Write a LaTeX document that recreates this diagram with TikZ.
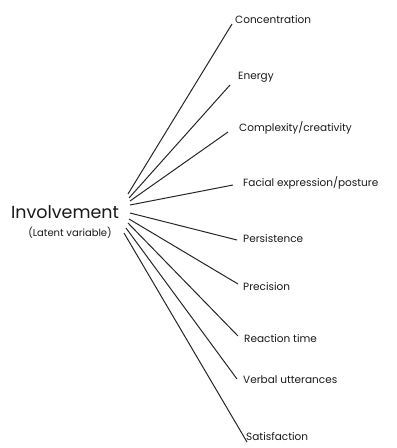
\documentclass[tikz,border=0pt]{standalone}
\usepackage{fontspec}
\setmainfont{Poppins}
\begin{document}
\begin{tikzpicture}[x=1pt,y=-1pt,
  lab/.style={anchor=west,inner sep=0pt,font=\fontsize{10.5}{12}\selectfont,text=black!90},
  spoke/.style={draw=black!85,line width=1pt}]
\useasboundingbox (0,0) rectangle (397,448);
\node[inner sep=0pt,font=\fontsize{17.5}{19}\selectfont,text=black!90] (inv) at (65,212) {Involvement};
\node[inner sep=0pt,font=\fontsize{10}{11}\selectfont,text=black!90] (lat) at (70,233) {(Latent variable)};
\node[lab] (c1) at (235,20) {Concentration};
\node[lab] (c2) at (238,77) {Energy};
\node[lab] (c3) at (239,128) {Complexity/creativity};
\node[lab] (c4) at (243,183) {Facial expression/posture};
\node[lab] (c5) at (243,239) {Persistence};
\node[lab] (c6) at (243,287) {Precision};
\node[lab] (c7) at (244,339) {Reaction time};
\node[lab] (c8) at (243,380) {Verbal utterances};
\node[lab] (c9) at (246,437) {Satisfaction};
\coordinate (s1) at (128,194); \coordinate (e1) at (232,24);
\coordinate (s2) at (129,198); \coordinate (e2) at (230,85);
\coordinate (s3) at (130,201); \coordinate (e3) at (228,132);
\coordinate (s4) at (130,205); \coordinate (e4) at (233,185);
\coordinate (s5) at (130,213); \coordinate (e5) at (237,240);
\coordinate (s6) at (129,219); \coordinate (e6) at (238,284);
\coordinate (s7) at (128,223); \coordinate (e7) at (238,336);
\coordinate (s8) at (126,228); \coordinate (e8) at (237,379);
\coordinate (s9) at (124,233); \coordinate (e9) at (247,442);
\foreach \i in {1,...,9} {\draw[spoke] (s\i) -- (e\i);}
\end{tikzpicture}
\end{document}
